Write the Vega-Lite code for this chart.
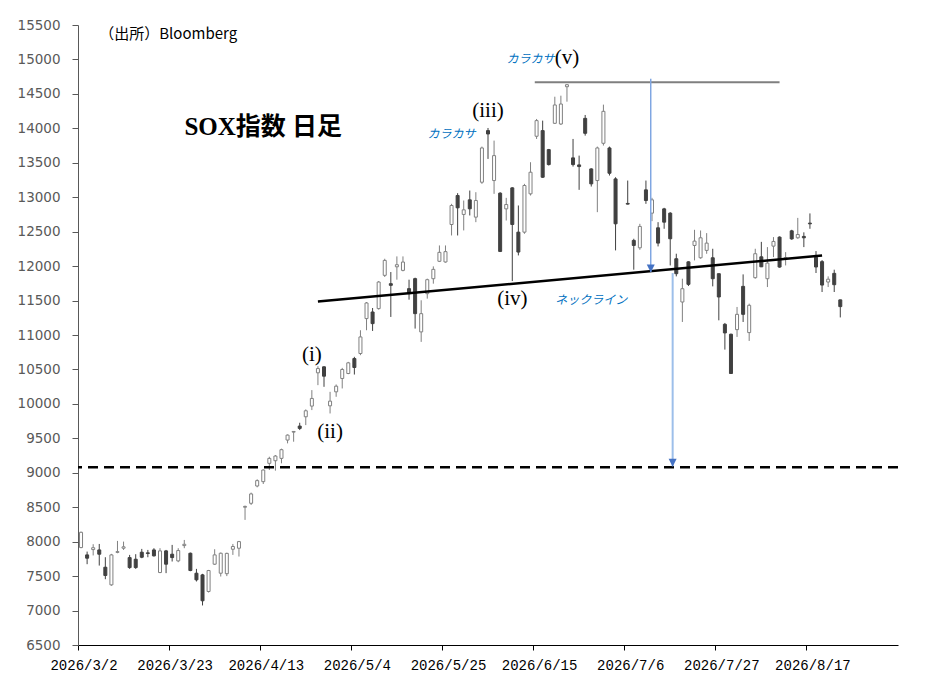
{
  "$schema": "https://vega.github.io/schema/vega-lite/v6.json",
  "width": 820,
  "height": 620,
  "autosize": {"type": "none"},
  "padding": {"left": 78, "top": 25, "right": 47, "bottom": 39},
  "background": "#ffffff",
  "config": {"view": {"stroke": null}, "axisY": {"labelOverlap": false, "tickCount": 19}},
  "datasets": {
    "ohlc": [
      {"d":"2026/3/2","o":7914,"h":8146,"l":7905,"c":8136},
      {"d":"2026/3/3","o":7808,"h":7856,"l":7673,"c":7760},
      {"d":"2026/3/4","o":7885,"h":7963,"l":7800,"c":7912},
      {"d":"2026/3/5","o":7880,"h":7967,"l":7653,"c":7818},
      {"d":"2026/3/6","o":7629,"h":7774,"l":7455,"c":7509},
      {"d":"2026/3/9","o":7373,"h":7823,"l":7359,"c":7808},
      {"d":"2026/3/10","o":7845,"h":8011,"l":7832,"c":7855},
      {"d":"2026/3/11","o":7905,"h":8001,"l":7880,"c":7925},
      {"d":"2026/3/12","o":7769,"h":7808,"l":7605,"c":7624},
      {"d":"2026/3/13","o":7745,"h":7818,"l":7605,"c":7624},
      {"d":"2026/3/16","o":7847,"h":7895,"l":7760,"c":7774},
      {"d":"2026/3/17","o":7838,"h":7880,"l":7774,"c":7828},
      {"d":"2026/3/18","o":7880,"h":7905,"l":7784,"c":7794},
      {"d":"2026/3/19","o":7552,"h":7905,"l":7543,"c":7866},
      {"d":"2026/3/20","o":7866,"h":7880,"l":7543,"c":7673},
      {"d":"2026/3/23","o":7818,"h":7953,"l":7712,"c":7769},
      {"d":"2026/3/24","o":7721,"h":7905,"l":7702,"c":7871},
      {"d":"2026/3/25","o":7943,"h":8025,"l":7905,"c":7962},
      {"d":"2026/3/26","o":7832,"h":7842,"l":7571,"c":7581},
      {"d":"2026/3/27","o":7542,"h":7605,"l":7422,"c":7446},
      {"d":"2026/3/30","o":7518,"h":7533,"l":7074,"c":7142},
      {"d":"2026/3/31","o":7277,"h":7590,"l":7262,"c":7581},
      {"d":"2026/4/1","o":7673,"h":7890,"l":7663,"c":7808},
      {"d":"2026/4/2","o":7542,"h":7842,"l":7494,"c":7832},
      {"d":"2026/4/3","o":7535,"h":7840,"l":7500,"c":7830},
      {"d":"2026/4/6","o":7890,"h":7967,"l":7808,"c":7930},
      {"d":"2026/4/7","o":7905,"h":8011,"l":7784,"c":8001},
      {"d":"2026/4/8","o":8500,"h":8523,"l":8316,"c":8512},
      {"d":"2026/4/9","o":8557,"h":8712,"l":8533,"c":8693},
      {"d":"2026/4/10","o":8808,"h":8905,"l":8789,"c":8886},
      {"d":"2026/4/13","o":8871,"h":9050,"l":8837,"c":9040},
      {"d":"2026/4/14","o":9137,"h":9233,"l":9040,"c":9209},
      {"d":"2026/4/15","o":9175,"h":9258,"l":9031,"c":9243},
      {"d":"2026/4/16","o":9209,"h":9350,"l":9137,"c":9335},
      {"d":"2026/4/17","o":9475,"h":9557,"l":9427,"c":9547},
      {"d":"2026/4/20","o":9590,"h":9605,"l":9451,"c":9600},
      {"d":"2026/4/21","o":9678,"h":9726,"l":9620,"c":9644},
      {"d":"2026/4/22","o":9813,"h":9920,"l":9692,"c":9900},
      {"d":"2026/4/23","o":9968,"h":10200,"l":9910,"c":10079},
      {"d":"2026/4/24","o":10451,"h":10547,"l":10272,"c":10513},
      {"d":"2026/4/27","o":10538,"h":10547,"l":10248,"c":10402},
      {"d":"2026/4/28","o":9972,"h":10175,"l":9861,"c":10040},
      {"d":"2026/4/29","o":10175,"h":10282,"l":10103,"c":10257},
      {"d":"2026/4/30","o":10369,"h":10523,"l":10224,"c":10499},
      {"d":"2026/5/1","o":10441,"h":10610,"l":10431,"c":10596},
      {"d":"2026/5/4","o":10658,"h":10683,"l":10426,"c":10528},
      {"d":"2026/5/5","o":10731,"h":11069,"l":10707,"c":10972},
      {"d":"2026/5/6","o":11238,"h":11479,"l":11069,"c":11465},
      {"d":"2026/5/7","o":11334,"h":11392,"l":11059,"c":11165},
      {"d":"2026/5/8","o":11383,"h":11784,"l":11368,"c":11769},
      {"d":"2026/5/11","o":11866,"h":12107,"l":11842,"c":12083},
      {"d":"2026/5/12","o":11745,"h":11914,"l":11262,"c":11721},
      {"d":"2026/5/13","o":11990,"h":12141,"l":11803,"c":12020},
      {"d":"2026/5/14","o":11938,"h":12141,"l":11924,"c":12059},
      {"d":"2026/5/15","o":11673,"h":11803,"l":11513,"c":11600},
      {"d":"2026/5/18","o":11818,"h":11832,"l":11093,"c":11310},
      {"d":"2026/5/19","o":11045,"h":11504,"l":10900,"c":11310},
      {"d":"2026/5/20","o":11600,"h":11818,"l":11528,"c":11803},
      {"d":"2026/5/21","o":11817,"h":11996,"l":11745,"c":11953},
      {"d":"2026/5/22","o":12070,"h":12300,"l":12059,"c":12200},
      {"d":"2026/5/25","o":12060,"h":12300,"l":12050,"c":12210},
      {"d":"2026/5/26","o":12604,"h":12904,"l":12445,"c":12880},
      {"d":"2026/5/27","o":13025,"h":13059,"l":12445,"c":12846},
      {"d":"2026/5/28","o":12750,"h":12952,"l":12518,"c":12817},
      {"d":"2026/5/29","o":12962,"h":13097,"l":12735,"c":12832},
      {"d":"2026/6/1","o":12711,"h":13073,"l":12638,"c":12952},
      {"d":"2026/6/2","o":13218,"h":13735,"l":13194,"c":13715},
      {"d":"2026/6/3","o":13967,"h":14005,"l":13556,"c":13918},
      {"d":"2026/6/4","o":13242,"h":13822,"l":13049,"c":13604},
      {"d":"2026/6/5","o":13059,"h":13073,"l":12204,"c":12213},
      {"d":"2026/6/8","o":12831,"h":12991,"l":12662,"c":12894},
      {"d":"2026/6/9","o":13136,"h":13145,"l":11783,"c":12604},
      {"d":"2026/6/10","o":12493,"h":12880,"l":12155,"c":12204},
      {"d":"2026/6/11","o":12493,"h":13194,"l":12469,"c":13170},
      {"d":"2026/6/12","o":13049,"h":13508,"l":13025,"c":13363},
      {"d":"2026/6/15","o":13885,"h":14136,"l":13846,"c":14112},
      {"d":"2026/6/16","o":13967,"h":14112,"l":13281,"c":13290},
      {"d":"2026/6/17","o":13691,"h":13701,"l":13460,"c":13474},
      {"d":"2026/6/18","o":14073,"h":14459,"l":14063,"c":14339},
      {"d":"2026/6/19","o":14063,"h":14474,"l":14049,"c":14353},
      {"d":"2026/6/22","o":14604,"h":14643,"l":14387,"c":14633},
      {"d":"2026/6/23","o":13571,"h":13846,"l":13445,"c":13474},
      {"d":"2026/6/24","o":13469,"h":13604,"l":13107,"c":13445},
      {"d":"2026/6/25","o":14145,"h":14194,"l":13894,"c":13928},
      {"d":"2026/6/26","o":13411,"h":13421,"l":13155,"c":13194},
      {"d":"2026/6/29","o":13242,"h":13735,"l":12783,"c":13715},
      {"d":"2026/6/30","o":13783,"h":14344,"l":13750,"c":14247},
      {"d":"2026/7/1","o":13715,"h":13735,"l":13315,"c":13348},
      {"d":"2026/7/2","o":13266,"h":13290,"l":12228,"c":12614},
      {"d":"2026/7/6","o":12910,"h":13242,"l":12895,"c":12900},
      {"d":"2026/7/7","o":12373,"h":12397,"l":11948,"c":12300},
      {"d":"2026/7/8","o":12266,"h":12614,"l":12237,"c":12576},
      {"d":"2026/7/9","o":13107,"h":13242,"l":12904,"c":12952},
      {"d":"2026/7/10","o":12769,"h":12991,"l":12653,"c":12962},
      {"d":"2026/7/13","o":12556,"h":12638,"l":12286,"c":12334},
      {"d":"2026/7/14","o":12831,"h":12846,"l":12542,"c":12638},
      {"d":"2026/7/15","o":12769,"h":12783,"l":12010,"c":12397},
      {"d":"2026/7/16","o":12107,"h":12180,"l":11851,"c":11890},
      {"d":"2026/7/17","o":11479,"h":11817,"l":11189,"c":11672},
      {"d":"2026/7/20","o":12062,"h":12070,"l":11711,"c":11735},
      {"d":"2026/7/21","o":12300,"h":12527,"l":12083,"c":12363},
      {"d":"2026/7/22","o":12121,"h":12517,"l":12107,"c":12411},
      {"d":"2026/7/23","o":12228,"h":12479,"l":12179,"c":12334},
      {"d":"2026/7/24","o":12121,"h":12252,"l":11706,"c":11817},
      {"d":"2026/7/27","o":11890,"h":11890,"l":11213,"c":11552},
      {"d":"2026/7/28","o":11155,"h":11175,"l":10788,"c":11030},
      {"d":"2026/7/29","o":11011,"h":11020,"l":10441,"c":10441},
      {"d":"2026/7/30","o":11078,"h":11407,"l":10972,"c":11300},
      {"d":"2026/7/31","o":11706,"h":11880,"l":11189,"c":11300},
      {"d":"2026/8/3","o":11035,"h":11455,"l":10914,"c":11431},
      {"d":"2026/8/4","o":11832,"h":12252,"l":11817,"c":12180},
      {"d":"2026/8/5","o":12135,"h":12352,"l":11986,"c":11990},
      {"d":"2026/8/6","o":11817,"h":12276,"l":11696,"c":12044},
      {"d":"2026/8/7","o":12290,"h":12421,"l":12131,"c":12358},
      {"d":"2026/8/10","o":12421,"h":12431,"l":11977,"c":11986},
      {"d":"2026/8/11","o":12110,"h":12203,"l":12010,"c":12122},
      {"d":"2026/8/12","o":12512,"h":12527,"l":12382,"c":12395},
      {"d":"2026/8/13","o":12411,"h":12700,"l":12397,"c":12459},
      {"d":"2026/8/14","o":12431,"h":12490,"l":12276,"c":12411},
      {"d":"2026/8/17","o":12624,"h":12765,"l":12542,"c":12614},
      {"d":"2026/8/18","o":12128,"h":12218,"l":11900,"c":11987},
      {"d":"2026/8/19","o":12065,"h":12088,"l":11624,"c":11725},
      {"d":"2026/8/20","o":11769,"h":11851,"l":11696,"c":11810},
      {"d":"2026/8/21","o":11895,"h":11948,"l":11624,"c":11730},
      {"d":"2026/8/24","o":11510,"h":11513,"l":11255,"c":11412}
    ],
    "neck": [
      {"d":"2026/4/24","v":11485},
      {"d":"2026/8/19","v":12155}
    ],
    "texts": [
      {"d":"2026/4/23","v":10707,"t":"(i)"},
      {"d":"2026/4/28","v":9591,"t":"(ii)"},
      {"d":"2026/6/3","v":14257,"t":"(iii)"},
      {"d":"2026/6/9","v":11518,"t":"(iv)"},
      {"d":"2026/6/22","v":15025,"t":"(v)"}
    ],
    "blue": [
      {"d":"2026/5/26","v":13923,"t":"カラカサ"},
      {"d":"2026/6/12","v":15012,"t":"カラカサ"},
      {"d":"2026/6/26","v":11503,"t":"ネックライン"}
    ]
  },
  "layer": [
    {
      "data": {"name": "ohlc"},
      "mark": {"type": "rule", "strokeWidth": 1},
      "encoding": {
        "x": {
          "field": "d", "type": "ordinal", "sort": null,
          "scale": {
            "paddingInner": 0, "paddingOuter": 0,
            "domain": ["2026/3/2","2026/3/3","2026/3/4","2026/3/5","2026/3/6","2026/3/9","2026/3/10","2026/3/11","2026/3/12","2026/3/13","2026/3/16","2026/3/17","2026/3/18","2026/3/19","2026/3/20","2026/3/23","2026/3/24","2026/3/25","2026/3/26","2026/3/27","2026/3/30","2026/3/31","2026/4/1","2026/4/2","2026/4/3","2026/4/6","2026/4/7","2026/4/8","2026/4/9","2026/4/10","2026/4/13","2026/4/14","2026/4/15","2026/4/16","2026/4/17","2026/4/20","2026/4/21","2026/4/22","2026/4/23","2026/4/24","2026/4/27","2026/4/28","2026/4/29","2026/4/30","2026/5/1","2026/5/4","2026/5/5","2026/5/6","2026/5/7","2026/5/8","2026/5/11","2026/5/12","2026/5/13","2026/5/14","2026/5/15","2026/5/18","2026/5/19","2026/5/20","2026/5/21","2026/5/22","2026/5/25","2026/5/26","2026/5/27","2026/5/28","2026/5/29","2026/6/1","2026/6/2","2026/6/3","2026/6/4","2026/6/5","2026/6/8","2026/6/9","2026/6/10","2026/6/11","2026/6/12","2026/6/15","2026/6/16","2026/6/17","2026/6/18","2026/6/19","2026/6/22","2026/6/23","2026/6/24","2026/6/25","2026/6/26","2026/6/29","2026/6/30","2026/7/1","2026/7/2","2026/7/3","2026/7/6","2026/7/7","2026/7/8","2026/7/9","2026/7/10","2026/7/13","2026/7/14","2026/7/15","2026/7/16","2026/7/17","2026/7/20","2026/7/21","2026/7/22","2026/7/23","2026/7/24","2026/7/27","2026/7/28","2026/7/29","2026/7/30","2026/7/31","2026/8/3","2026/8/4","2026/8/5","2026/8/6","2026/8/7","2026/8/10","2026/8/11","2026/8/12","2026/8/13","2026/8/14","2026/8/17","2026/8/18","2026/8/19","2026/8/20","2026/8/21","2026/8/24","2026/8/25","2026/8/26","2026/8/27","2026/8/28","2026/8/31","2026/9/1","2026/9/2","2026/9/3","2026/9/4"]
          },
          "axis": {
            "title": null,
            "values": ["2026/3/2","2026/3/23","2026/4/13","2026/5/4","2026/5/25","2026/6/15","2026/7/6","2026/7/27","2026/8/17"],
            "bandPosition": 0,
            "labelOffset": 3,
            "labelAngle": 0,
            "labelFont": "Liberation Mono",
            "labelFontSize": 14,
            "labelColor": "#000000",
            "labelPadding": 8,
            "labelOverlap": false,
            "tickSize": 5,
            "tickColor": "#000000",
            "domainColor": "#000000",
            "domainWidth": 1,
            "grid": false
          }
        },
        "y": {
          "field": "l", "type": "quantitative",
          "scale": {"domain": [6500, 15500], "nice": false, "zero": false},
          "axis": {
            "title": null,
            "values": [6500,7000,7500,8000,8500,9000,9500,10000,10500,11000,11500,12000,12500,13000,13500,14000,14500,15000,15500],
            "tickCount": 19,
            "format": "d",
            "labelFont": "DejaVu Sans",
            "labelFontSize": 13.5,
            "labelColor": "#595959",
            "labelPadding": 12,
            "labelOverlap": false,
            "labelBound": false,
            "tickSize": 6,
            "tickColor": "#595959",
            "domainColor": "#595959",
            "grid": false
          }
        },
        "y2": {"field": "h"},
        "stroke": {"condition": {"test": "datum.c >= datum.o", "value": "#808080"}, "value": "#404040"}
      }
    },
    {
      "data": {"name": "ohlc"},
      "mark": {"type": "bar", "width": 3, "strokeWidth": 1},
      "encoding": {
        "x": {"field": "d", "type": "ordinal", "sort": null},
        "y": {
          "field": "o", "type": "quantitative",
          "axis": {
            "title": null,
            "values": [6500,7000,7500,8000,8500,9000,9500,10000,10500,11000,11500,12000,12500,13000,13500,14000,14500,15000,15500],
            "tickCount": 19,
            "format": "d",
            "labelFont": "DejaVu Sans",
            "labelFontSize": 13.5,
            "labelColor": "#595959",
            "labelPadding": 12,
            "labelOverlap": false,
            "labelBound": false,
            "tickSize": 6,
            "tickColor": "#595959",
            "domainColor": "#595959",
            "grid": false
          }
        },
        "y2": {"field": "c"},
        "fill": {"condition": {"test": "datum.c >= datum.o", "value": "#ffffff"}, "value": "#404040"},
        "stroke": {"condition": {"test": "datum.c >= datum.o", "value": "#808080"}, "value": "#404040"}
      }
    },
    {
      "data": {"values": [{"v": 9080}]},
      "mark": {"type": "rule", "strokeWidth": 2.5, "strokeDash": [10, 6], "color": "#000000"},
      "encoding": {"y": {"field": "v", "type": "quantitative"}}
    },
    {
      "data": {"name": "neck"},
      "mark": {"type": "line", "strokeWidth": 2.5, "color": "#000000"},
      "encoding": {
        "x": {"field": "d", "type": "ordinal", "sort": null},
        "y": {"field": "v", "type": "quantitative"}
      }
    },
    {
      "data": {"values": [{"d": "2026/6/15", "d2": "2026/8/10", "v": 14670}]},
      "mark": {"type": "rule", "strokeWidth": 2, "color": "#7f7f7f"},
      "encoding": {
        "x": {"field": "d", "type": "ordinal", "sort": null, "bandPosition": 0.2},
        "x2": {"field": "d2"},
        "y": {"field": "v", "type": "quantitative"}
      }
    },
    {
      "data": {"values": [{"d": "2026/7/10", "v": 14720, "v2": 11915}]},
      "mark": {"type": "rule", "strokeWidth": 1.5, "color": "#7fa6e2"},
      "encoding": {
        "x": {"field": "d", "type": "ordinal", "sort": null, "bandPosition": 0.29},
        "y": {"field": "v", "type": "quantitative"},
        "y2": {"field": "v2"}
      }
    },
    {
      "data": {"values": [{"d": "2026/7/10", "v": 11909}]},
      "mark": {"type": "point", "shape": "M-1,-2L1,-2L0,0Z", "size": 64, "filled": true, "color": "#4472c4", "opacity": 1},
      "encoding": {
        "x": {"field": "d", "type": "ordinal", "sort": null, "bandPosition": 0.29},
        "y": {"field": "v", "type": "quantitative"}
      }
    },
    {
      "data": {"values": [{"d": "2026/7/15", "v": 11899, "v2": 9095}]},
      "mark": {"type": "rule", "strokeWidth": 2, "color": "#9dbfea"},
      "encoding": {
        "x": {"field": "d", "type": "ordinal", "sort": null, "bandPosition": 0.9},
        "y": {"field": "v", "type": "quantitative"},
        "y2": {"field": "v2"}
      }
    },
    {
      "data": {"values": [{"d": "2026/7/15", "v": 9088}]},
      "mark": {"type": "point", "shape": "M-1,-2L1,-2L0,0Z", "size": 64, "filled": true, "color": "#4472c4", "opacity": 1},
      "encoding": {
        "x": {"field": "d", "type": "ordinal", "sort": null, "bandPosition": 0.9},
        "y": {"field": "v", "type": "quantitative"}
      }
    },
    {
      "data": {"name": "texts"},
      "mark": {"type": "text", "font": "Liberation Serif", "fontSize": 21, "align": "center", "baseline": "middle", "color": "#000000"},
      "encoding": {
        "x": {"field": "d", "type": "ordinal", "sort": null},
        "y": {"field": "v", "type": "quantitative"},
        "text": {"field": "t"}
      }
    },
    {
      "data": {"name": "blue"},
      "mark": {"type": "text", "font": "Noto Sans CJK JP", "fontSize": 12, "fontStyle": "italic", "align": "center", "baseline": "middle", "color": "#0070c0"},
      "encoding": {
        "x": {"field": "d", "type": "ordinal", "sort": null},
        "y": {"field": "v", "type": "quantitative"},
        "text": {"field": "t"}
      }
    },
    {
      "data": {"values": [{"d": "2026/4/13", "v": 14014, "t": "SOX指数 日足"}]},
      "mark": {"type": "text", "font": "Liberation Serif, Noto Sans CJK JP", "fontSize": 25, "fontWeight": "bold", "align": "center", "baseline": "middle", "color": "#000000"},
      "encoding": {
        "x": {"field": "d", "type": "ordinal", "sort": null},
        "y": {"field": "v", "type": "quantitative"},
        "text": {"field": "t"}
      }
    },
    {
      "data": {"values": [{"d": "2026/3/5", "v": 15372, "t": "（出所）Bloomberg"}]},
      "mark": {"type": "text", "font": "Noto Sans CJK JP", "fontSize": 15, "align": "left", "baseline": "middle", "color": "#000000"},
      "encoding": {
        "x": {"field": "d", "type": "ordinal", "sort": null},
        "y": {"field": "v", "type": "quantitative"},
        "text": {"field": "t"}
      }
    }
  ]
}
